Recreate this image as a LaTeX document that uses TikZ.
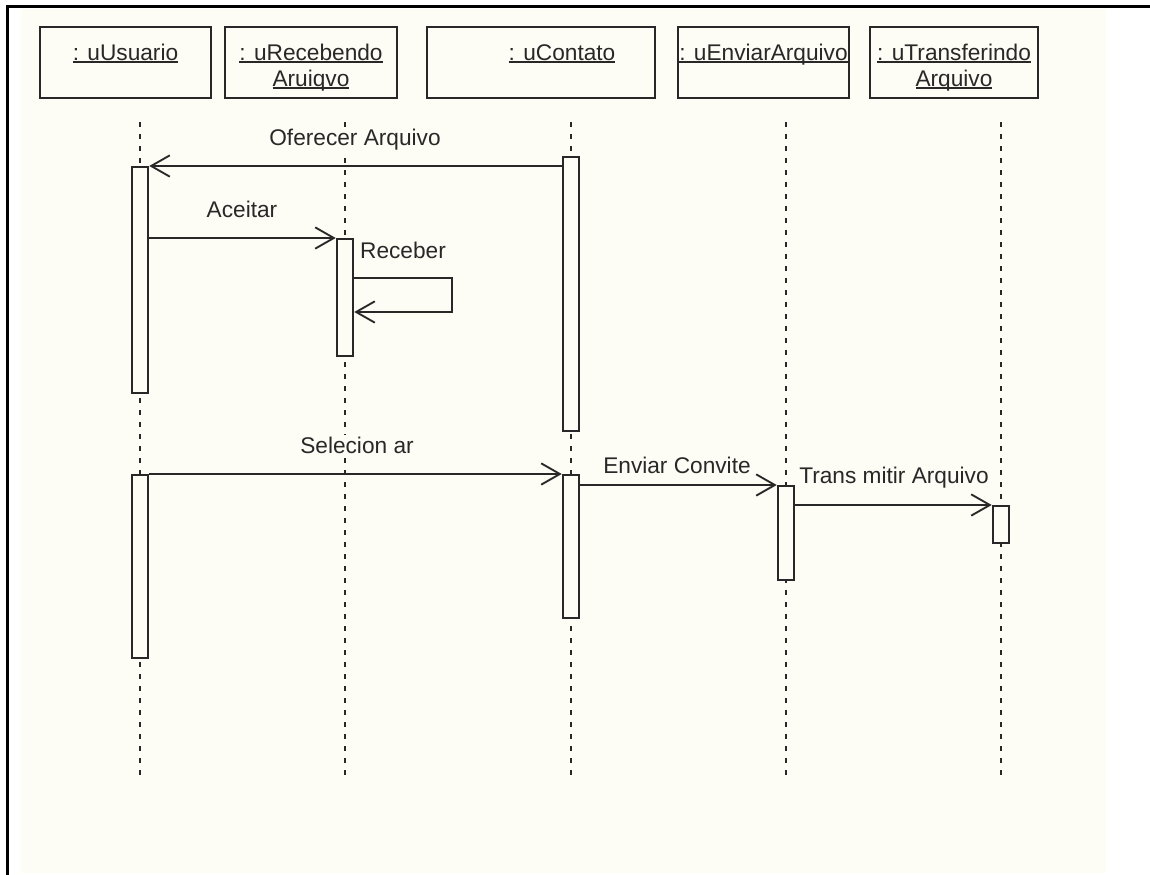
\documentclass[tikz,border=0pt]{standalone}
\usepackage{fontspec}
\setmainfont{Liberation Sans}
\usetikzlibrary{arrows.meta}

\definecolor{bgcream}{RGB}{253,253,245}
\definecolor{linegray}{RGB}{40,40,40}

\newcommand\uln[1]{\setbox0\hbox{#1}\rlap{\rule[-2pt]{\wd0}{0.9pt}}\box0}
\newcommand\hdtext[2]{\vbox{\baselineskip=19.5pt\halign{\hfil##\hfil\cr\uln{#1}\cr#2\cr}}}

\begin{document}
\begin{tikzpicture}[x=0.75pt, y=-0.75pt,
    hdr/.style={draw=linegray, line width=1.4pt, fill=bgcream, inner sep=0pt,
      text height=44.25pt, text depth=9pt, text=linegray,
      font=\fontsize{17}{19.5}\selectfont},
    act/.style={draw=linegray, line width=1.4pt, fill=bgcream,
      minimum width=12.5pt, inner sep=0pt, anchor=north},
    lifeline/.style={linegray, line width=1.4pt, dash pattern=on 3.75pt off 5.25pt},
    msg/.style={linegray, line width=1.4pt, -{Straight Barb[length=14pt,width=16pt]}},
    lbl/.style={anchor=base, fill=bgcream, inner sep=1.5pt, text=linegray,
      font=\fontsize{17}{20}\selectfont}]
  \useasboundingbox (0,0) rectangle (1150,875);
  \fill[white] (0,0) rectangle (1150,875);
  \fill[bgcream] (21,9) rectangle (1106,873);
  \draw[line width=2.25pt] (1150,6) -- (7,6) -- (7,875);

  % objects
  \node[hdr, minimum width=128.25pt] (usu) at (125.5,62.5) {\hdtext{: uUsuario}{\mbox{}}};
  \node[hdr, minimum width=129pt] (rec) at (311,62.5) {\hdtext{: uRecebendo}{\uln{Aruiqvo}}};
  \node[hdr, minimum width=171pt] (cont) at (541,62.5) {\hspace*{31.5pt}\hdtext{: uContato}{\mbox{}}};
  \node[hdr, minimum width=128.25pt] (env) at (763.5,62.5) {\hdtext{: uEnviarArquivo}{\mbox{}}};
  \node[hdr, minimum width=126pt] (tra) at (954,62.5) {\hdtext{: uTransferindo}{\uln{Arquivo}}};

  % lifelines
  \foreach \n/\x in {usu/140, rec/345, cont/571, env/786, tra/1001} {
    \coordinate (\n Top) at (\x,122);
    \coordinate (\n End) at (\x,775);
    \draw[lifeline] (\n Top) -- (\n End);
  }

  % labels
  \node[lbl] (lOferecer) at (355,145) {Oferecer Arquivo};
  \node[lbl] (lAceitar) at (242,217) {Aceitar};
  \node[lbl] (lReceber) at (403,258) {Receber};
  \node[lbl] (lSelecionar) at (357,453) {Selecion ar};
  \node[lbl] (lConvite) at (677,473) {Enviar Convite};
  \node[lbl] (lTransmitir) at (894,483) {Trans mitir Arquivo};

  % activations
  \node[act, minimum height=169.5pt] (usu1) at (140,166) {};
  \node[act, minimum height=137.25pt] (usu2) at (140,474) {};
  \node[act, minimum height=87.75pt] (rec1) at (345,238) {};
  \node[act, minimum height=205.5pt] (cont1) at (571,156) {};
  \node[act, minimum height=107.25pt] (cont2) at (571,474) {};
  \node[act, minimum height=70.5pt] (env1) at (786,485) {};
  \node[act, minimum height=27.75pt] (tra1) at (1001,505) {};

  % messages
  \draw[msg] (cont1.west |- usu1.north) -- (usu1.north east);
  \draw[msg] (usu1.east |- rec1.north) -- (rec1.north west);
  \draw[msg] ([yshift=-30pt]rec1.north east) -- ++(73.5pt,0) |- ([yshift=-55.5pt]rec1.north east);
  \draw[msg] (usu2.north east) -- (cont2.north west);
  \draw[msg] (cont2.east |- env1.north) -- (env1.north west);
  \draw[msg] (env1.east |- tra1.north) -- (tra1.north west);
\end{tikzpicture}
\end{document}
